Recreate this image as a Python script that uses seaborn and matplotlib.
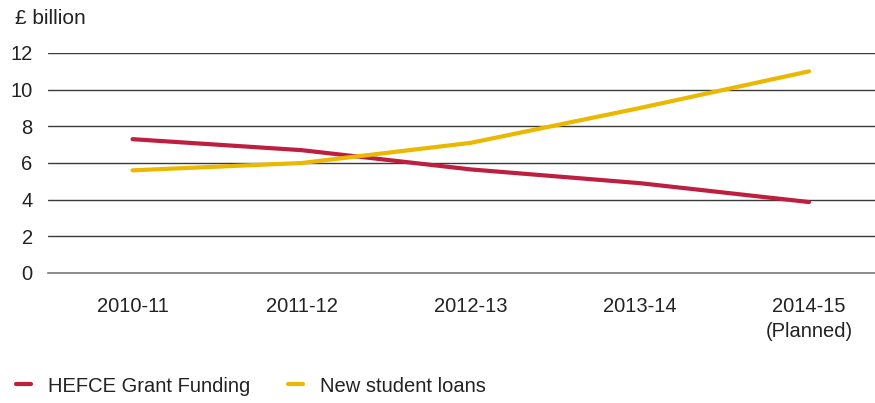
import matplotlib
matplotlib.use("Agg")
import matplotlib.pyplot as plt
import seaborn as sns
import pandas as pd
import numpy as np

# Funding data (£ billion)
years = ["2010-11", "2011-12", "2012-13", "2013-14", "2014-15\n(Planned)"]
hefce_grant = [7.3, 6.7, 5.65, 4.9, 3.87]
student_loans = [5.6, 6.0, 7.1, 9.0, 11.0]
series_names = ["HEFCE Grant Funding", "New student loans"]
y_ticks = [0, 2, 4, 6, 8, 10, 12]

sns.set_theme(style="white")
plt.rcParams["font.family"] = ["Liberation Sans", "DejaVu Sans"]

df = pd.DataFrame({
    "year": years * 2,
    "pos": list(range(len(years))) * 2,
    "value": hefce_grant + student_loans,
    "series": [series_names[0]] * len(years) + [series_names[1]] * len(years),
})

colors = {series_names[0]: "#BE1E40", series_names[1]: "#EBB800"}
fs = 14.5

fig = plt.figure(figsize=(8.75, 4.03), dpi=100)
ax = fig.add_axes([48 / 875, (403 - 273) / 403, 1 - 48 / 875, (273 - 53) / 403])

# gridlines drawn under the data lines
for t in y_ticks[1:]:
    ax.axhline(t, color="#3a3a3a", lw=1.0, zorder=1)

sns.lineplot(data=df, x="pos", y="value", hue="series", palette=colors,
             lw=3.0, ax=ax, legend=False, zorder=3, solid_capstyle="round")

ax.set_yticks(y_ticks)
ax.set_yticklabels([str(t) for t in y_ticks], fontsize=fs, color="#222222")
ax.set_xticks(range(len(years)))
ax.set_xticklabels(years, fontsize=fs, color="#222222", linespacing=1.45)
ax.set_xticks(np.arange(-0.5, len(years), 1.0), minor=True)
ax.set_xlim(-0.5, 4.39)
ax.set_ylim(0, 12)
ax.tick_params(axis="x", which="major", length=0, pad=17)
ax.tick_params(axis="x", which="minor", length=5, width=1.0, color="#666666", direction="out")
ax.tick_params(axis="y", length=0, pad=11)
ax.set_xlabel("")
ax.set_ylabel("")

for s in ["top", "right", "left"]:
    ax.spines[s].set_visible(False)
ax.spines["bottom"].set_color("#777777")
ax.spines["bottom"].set_linewidth(1.2)

fig.text(15 / 875, 1 - 18 / 403, "£ billion", fontsize=15, color="#222222",
         ha="left", va="center")

handles = [plt.Line2D([], [], color=colors[n], lw=3.0, solid_capstyle="round") for n in series_names]
fig.legend(handles, series_names, loc="center left", bbox_to_anchor=(8 / 875, 1 - 386 / 403),
           ncol=2, frameon=False, fontsize=fs, handlelength=0.75, handletextpad=0.85,
           columnspacing=1.85, borderaxespad=0, labelcolor="#222222")

fig.savefig("out.png", dpi=100)
